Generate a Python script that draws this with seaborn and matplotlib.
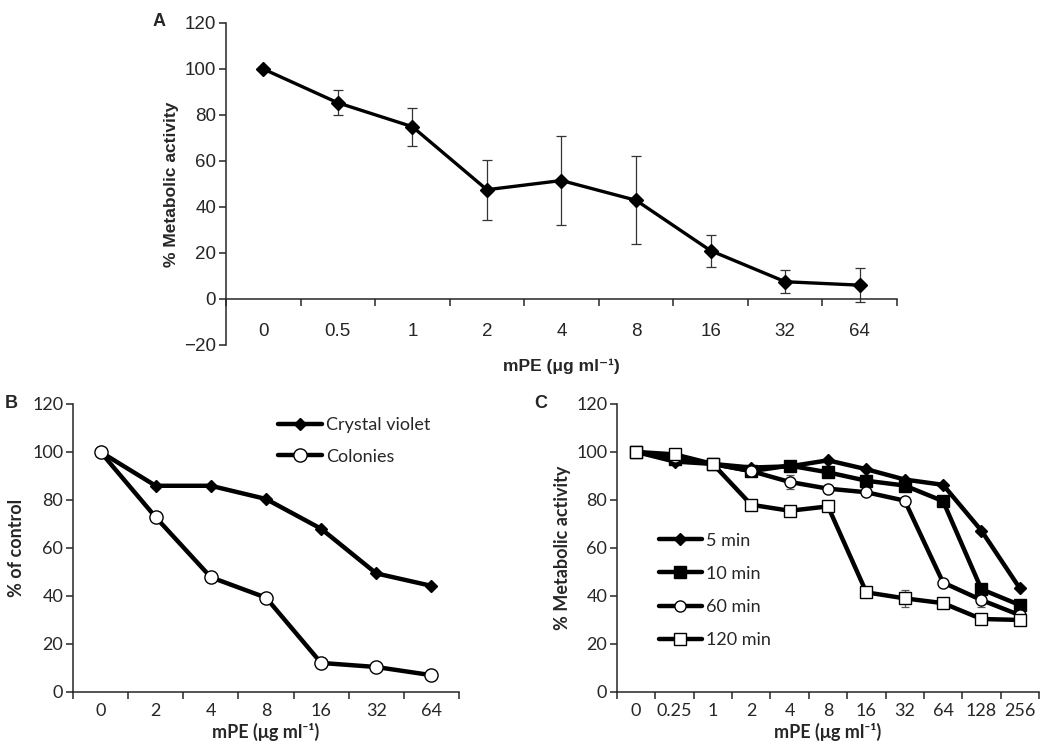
import numpy as np
import pandas as pd
import matplotlib
matplotlib.use("Agg")
import matplotlib.pyplot as plt
from matplotlib.lines import Line2D
import seaborn as sns

# DATOS

# Panel A - metabolic activity vs mPE
a_conc = ["0", "0.5", "1", "2", "4", "8", "16", "32", "64"]
a_activity = [100, 85.3, 74.9, 47.5, 51.5, 42.9, 21.0, 7.5, 6.0]
a_err = [0, 5.4, 8.2, 13.0, 19.2, 19.1, 6.9, 4.9, 7.3]

# Panel B - crystal violet / colonies
b_conc = ["0", "2", "4", "8", "16", "32", "64"]
b_crystal = [100, 85.9, 85.9, 80.4, 68.0, 49.4, 44.2]
b_colonies = [100, 72.8, 47.8, 39.3, 12.1, 10.4, 7.0]

# Panel C - exposure time
c_conc = ["0", "0.25", "1", "2", "4", "8", "16", "32", "64", "128", "256"]
c_5min = [100, 96, 95, 93.5, 94, 96.5, 92.8, 88.5, 86.3, 67.2, 43.2]
c_10min = [100, 97, 95, 92, 94.3, 91.5, 88, 86, 79.5, 42.8, 36.2]
c_60min = [100, 98, 95, 92, 87.5, 84.7, 83.2, 79.7, 45.6, 38.3, 32]
c_60err = [0, 0, 0, 0, 3, 1.5, 0, 0, 0, 3, 0]
c_120min = [100, 99, 95, 78, 75.5, 77.3, 41.5, 39, 37, 30.4, 30]
c_120err = [0, 2, 0, 0, 0, 0, 0, 3.5, 0, 0, 0]

XLABEL = "mPE (μg ml\u207b\u00b9)"

sns.set_style("ticks")
plt.rcParams["font.family"] = ["Liberation Sans", "DejaVu Sans"]
plt.rcParams["axes.linewidth"] = 1.1

fig = plt.figure(figsize=(10.5, 7.56), dpi=100)
ax_a = fig.add_axes([0.2152, 0.5437, 0.6391, 0.4259])
ax_b = fig.add_axes([0.0695, 0.0847, 0.3676, 0.3810])
ax_c = fig.add_axes([0.5876, 0.0847, 0.4019, 0.3810])


def style_axis(ax, n, ylim, font, size, pad):
    ax.set_xlim(-0.5, n - 0.5)
    ax.set_ylim(*ylim)
    ax.set_yticks(np.arange(ylim[0], ylim[1] + 1, 20))
    ax.spines["top"].set_visible(False)
    ax.spines["right"].set_visible(False)
    ax.spines["bottom"].set_position(("data", 0))
    ax.set_xticks(np.arange(-0.5, n, 1.0), minor=True)
    ax.tick_params(axis="x", which="major", length=0, pad=pad)
    ax.tick_params(axis="x", which="minor", length=5, width=1.1, direction="out")
    ax.tick_params(axis="y", length=5, width=1.1, direction="out", pad=2)
    for lab in ax.get_xticklabels() + ax.get_yticklabels():
        lab.set_family(font)
        lab.set_fontsize(size)
    ax.grid(False)


# PANEL A
df_a = pd.DataFrame({"conc": a_conc, "val": a_activity})
pos_a = np.arange(len(a_conc))
ax_a.errorbar(pos_a, a_activity, yerr=a_err, fmt="none", ecolor="#333333",
              elinewidth=0.9, capsize=3.5, capthick=0.9, zorder=1)
sns.pointplot(data=df_a, x="conc", y="val", order=a_conc, color="black",
              markers="D", errorbar=None, ax=ax_a, linewidth=2.4,
              markersize=7.5, markeredgewidth=1, zorder=3)
style_axis(ax_a, len(a_conc), (-20, 120), ["Liberation Sans", "DejaVu Sans"], 13.5, 17)
ax_a.set_xlabel("")
ax_a.set_ylabel("% Metabolic activity", fontsize=12.5, fontweight="bold", labelpad=4)
# xlabel sits between the tick labels and the bottom of the y axis (Excel style)
ax_a.text(0.5, -0.066, XLABEL, transform=ax_a.transAxes,
          ha="center", va="center", fontsize=12.5, fontweight="bold")
fig.text(159 / 1050, 1 - 22 / 756, "A", fontsize=13, fontweight="bold",
         ha="center", va="center")

# PANEL B
calibri = ["Lato", "DejaVu Sans"]
df_b = pd.DataFrame({"conc": b_conc, "crystal": b_crystal, "colonies": b_colonies})
sns.pointplot(data=df_b, x="conc", y="crystal", order=b_conc, color="black",
              markers="D", errorbar=None, ax=ax_b, linewidth=3.2,
              markersize=5.8, markeredgewidth=1, zorder=3)
sns.pointplot(data=df_b, x="conc", y="colonies", order=b_conc, color="black",
              markers="o", errorbar=None, ax=ax_b, linewidth=3.2,
              markersize=9.5, markeredgewidth=1, markerfacecolor="white", zorder=3)
style_axis(ax_b, len(b_conc), (0, 120), calibri, 13, 8)
ax_b.set_xlabel(XLABEL, family=calibri, fontsize=13, fontweight="bold", labelpad=3)
ax_b.set_ylabel("% of control", family=calibri, fontsize=13, fontweight="bold", labelpad=5)
hb = [Line2D([], [], color="black", lw=3.2, marker="D", ms=5.8, mew=1),
      Line2D([], [], color="black", lw=3.2, marker="o", ms=9.5, mew=1, mfc="white")]
ax_b.legend(hb, ["Crystal violet", "Colonies"], loc="upper left",
            bbox_to_anchor=(0.49, 1.01), frameon=False, handlelength=2.4,
            handletextpad=0.25, labelspacing=0.85, prop={"family": calibri, "size": 13})
fig.text(11 / 1050, 1 - 404 / 756, "B", fontsize=13, fontweight="bold",
         ha="center", va="center")

# PANEL C
df_c = pd.DataFrame({"conc": c_conc, "m5": c_5min, "m10": c_10min,
                     "m60": c_60min, "m120": c_120min})
pos_c = np.arange(len(c_conc))
ax_c.errorbar(pos_c, c_60min, yerr=c_60err, fmt="none", ecolor="#555555",
              elinewidth=0.9, capsize=3, capthick=0.9, zorder=1)
ax_c.errorbar(pos_c, c_120min, yerr=c_120err, fmt="none", ecolor="#555555",
              elinewidth=0.9, capsize=3, capthick=0.9, zorder=1)
series_c = [
    ("m5", "D", 6.0, "black"),
    ("m10", "s", 9.0, "black"),
    ("m60", "o", 8.0, "white"),
    ("m120", "s", 8.5, "white"),
]
for col, mk, ms, fc in series_c:
    sns.pointplot(data=df_c, x="conc", y=col, order=c_conc, color="black",
                  markers=mk, errorbar=None, ax=ax_c, linewidth=3.2,
                  markersize=ms, markeredgewidth=1, markerfacecolor=fc, zorder=3)
style_axis(ax_c, len(c_conc), (0, 120), calibri, 13, 8)
ax_c.set_xlabel(XLABEL, family=calibri, fontsize=13, fontweight="bold", labelpad=3)
ax_c.set_ylabel("% Metabolic activity", family=calibri, fontsize=13,
                fontweight="bold", labelpad=4)
hc = [Line2D([], [], color="black", lw=3.2, marker=mk, ms=ms, mew=1, mfc=fc)
      for _, mk, ms, fc in series_c]
ax_c.legend(hc, ["5 min", "10 min", "60 min", "120 min"], loc="upper left",
            bbox_to_anchor=(0.06, 0.61), frameon=False, handlelength=2.4,
            handletextpad=0.25, labelspacing=0.95, prop={"family": calibri, "size": 13})
fig.text(541 / 1050, 1 - 404 / 756, "C", fontsize=13, fontweight="bold",
         ha="center", va="center")

fig.savefig("out.png", dpi=100)
